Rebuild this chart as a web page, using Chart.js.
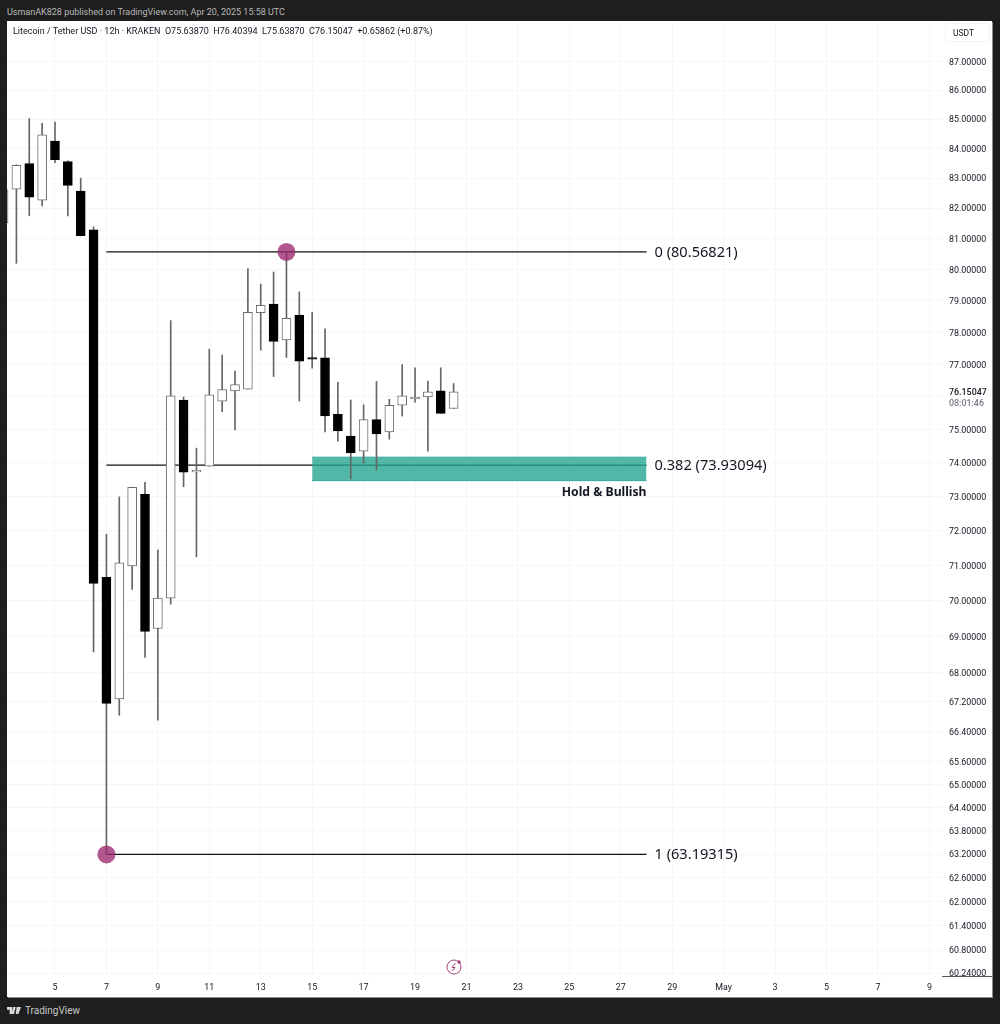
<!DOCTYPE html>
<html>
<head>
<meta charset="utf-8">
<script src="https://cdn.jsdelivr.net/npm/chart.js@4"></script>
<style>
html,body{margin:0;padding:0;background:#1e1e1e;width:1000px;height:1024px;overflow:hidden;font-family:Roboto,sans-serif}
#publisher{position:absolute;left:7px;top:5px;font-size:9px;line-height:14px;color:#b8b8b8}
#panel{position:absolute;left:7px;top:21px;width:985px;height:976px;background:#fff;box-shadow:1px 1px 0 #8a8a8a}
#chartBox{position:absolute;left:0;top:0;width:985px;height:976px}
#legend{position:absolute;left:6px;top:3px;font-size:9px;line-height:14px;color:#131722;white-space:pre}
#unit{position:absolute;left:938px;top:2px;width:45px;height:19px;border:1px solid #f0f3fa;border-radius:3px;box-sizing:border-box;font-size:8.5px;line-height:18px;color:#131722;padding-left:7px}
#corner{position:absolute;left:935px;top:955px;width:50px;height:1px;background:#555}
#bolt{position:absolute;left:438px;top:937px}
#brand{position:absolute;left:25px;top:1003px;font-size:10px;line-height:16px;color:#c8c8c8}
#logo{position:absolute;left:7px;top:1007px}
</style>
</head>
<body>
<div id="publisher">UsmanAK828 published on TradingView.com, Apr 20, 2025 15:58 UTC</div>
<div id="panel">
  <div id="chartBox"><canvas id="c" width="985" height="976"></canvas></div>
  <div id="legend">Litecoin / Tether USD · 12h · KRAKEN  O75.63870  H76.40394  L75.63870  C76.15047  +0.65862 (+0.87%)</div>
  <div id="unit">USDT</div>
  <div id="corner"></div>
  <svg id="bolt" width="18" height="18" viewBox="0 0 18 18"><circle cx="9" cy="9" r="7" fill="none" stroke="#a0447a" stroke-width="1"/><path d="M10.5 5 L7 9.5 H10 L7.5 13" fill="none" stroke="#a0447a" stroke-width="1"/><circle cx="14" cy="4" r="1.8" fill="#a0447a"/></svg>
</div>
<svg id="logo" width="14" height="8" viewBox="0 0 16 9"><path d="M0 0H6V8H3V3H0Z M7 0H10L8 8H5.5Z M11 0H16L13 8H10Z" fill="#d8d8d8"/></svg>
<div id="brand">TradingView</div>
<script>
// candles, day number of April (May 1 = 31), one every 12h
const days=[3,3.5,4,4.5,5,5.5,6,6.5,7,7.5,8,8.5,9,9.5,10,10.5,11,11.5,12,12.5,13,13.5,14,14.5,15,15.5,16,16.5,17,17.5,18,18.5,19,19.5,20,20.5];
const opens=[81.52,82.63,83.49,82.27,84.25,83.56,82.57,81.29,70.66,67.28,70.99,73.07,69.22,70.07,75.90,73.73,73.90,75.86,76.18,76.23,78.62,78.89,77.76,78.54,77.21,77.20,75.46,74.80,74.35,75.30,74.93,75.74,75.93,75.99,76.18,75.6387];
const highs=[82.70,83.45,85.02,84.86,84.90,83.58,83.00,81.39,71.90,72.99,73.28,73.42,71.44,78.37,75.99,74.44,77.47,77.29,76.79,80.03,79.53,79.92,80.56821,79.28,78.63,78.11,76.44,75.90,75.75,76.47,75.92,76.99,76.89,76.48,76.89,76.40394];
const lows=[81.50,80.20,81.75,82.08,83.52,81.75,81.09,68.57,63.19315,66.84,70.32,68.42,66.71,69.90,73.29,71.25,73.90,75.54,74.99,76.23,77.44,76.62,77.21,75.87,76.88,74.93,74.65,73.52,73.99,73.79,74.71,75.41,75.83,74.35,75.49,75.6387];
const closes=[82.61,83.43,82.37,84.46,83.62,82.76,81.10,70.49,67.16,71.08,73.27,69.14,70.07,76.03,73.72,73.78,76.06,76.22,76.37,78.63,78.85,77.71,78.44,77.10,77.16,75.41,74.96,74.30,75.30,74.87,75.74,76.03,75.99,76.15,75.49,76.15047];

const priceTicks=[87,86,85,84,83,82,81,80,79,78,77,76,75,74,73,72,71,70,69,68,67.2,66.4,65.6,65,64.4,63.8,63.2,62.6,62,61.4,60.8,60.24];
const dayTicks=[5,7,9,11,13,15,17,19,21,23,25,27,29,31,33,35,37,39];
const lastPrice=76.15047;
const lastTimer='08:01:46';

// fib levels drawn from day 7 to day 28
const fibValues=[80.56821,73.93094,63.19315];
const fibLabels=['0 (80.56821)','0.382 (73.93094)','1 (63.19315)'];
const fibStart=[7,7,7];
const fibEnd=[28,28,28];
const zoneDays=[15,28];
const zoneTop=[74.17,74.17];
const zoneBottom=[73.47,73.47];
const zoneText='Hold & Bullish';
const pivotDays=[14,7];
const pivotValues=[80.56821,63.19315];

const up=days.map((d,i)=>closes[i]>=opens[i]);
const bodies=(want)=>days.map((d,i)=>({x:d,y:[opens[i],closes[i]]})).filter((p,i)=>up[i]===want);

const datasets=[];
fibValues.forEach((v,i)=>datasets.push({type:'line',order:6,data:[{x:fibStart[i],y:v},{x:fibEnd[i],y:v}],borderColor:'#111',borderWidth:1.2,pointRadius:0}));
datasets.push({type:'line',order:5,data:zoneDays.map((d,i)=>({x:d,y:zoneTop[i]})),borderColor:'#3fae9b',borderWidth:1,pointRadius:0,fill:'+1',backgroundColor:'rgba(38,166,145,.8)'});
datasets.push({type:'line',order:5,data:zoneDays.map((d,i)=>({x:d,y:zoneBottom[i]})),borderColor:'#3fae9b',borderWidth:1,pointRadius:0});
datasets.push({type:'bar',order:4,grouped:false,barThickness:1,data:days.map((d,i)=>({x:d,y:[lows[i],highs[i]]})),backgroundColor:'#666',borderWidth:0});
datasets.push({type:'bar',order:3,grouped:false,barThickness:9,data:bodies(true),backgroundColor:'#fff',borderColor:'#6e6e6e',borderWidth:1,borderSkipped:false});
datasets.push({type:'bar',order:2,grouped:false,barThickness:9,data:bodies(false),backgroundColor:'#000',borderColor:'#000',borderWidth:1,borderSkipped:false});
datasets.push({type:'line',order:1,showLine:false,data:pivotDays.map((d,i)=>({x:d,y:pivotValues[i]})),pointRadius:9,pointHoverRadius:9,pointBackgroundColor:'rgba(156,39,110,.78)',pointBorderWidth:0});

const annotations={
  id:'annotations',
  afterDraw(chart){
    const ctx=chart.ctx,xs=chart.scales.x,ys=chart.scales.y;
    ctx.save();
    ctx.textBaseline='middle';
    ctx.fillStyle='#131722';
    ctx.font='14.6px "Noto Sans"';
    fibLabels.forEach((t,i)=>ctx.fillText(t,xs.getPixelForValue(fibEnd[i])+8,ys.getPixelForValue(fibValues[i])+0.5));
    ctx.font='bold 12.2px "Noto Sans"';
    ctx.textAlign='right';
    ctx.fillText(zoneText,xs.getPixelForValue(zoneDays[1]),ys.getPixelForValue(zoneBottom[0])+11.5);
    ctx.textAlign='left';
    const px=chart.chartArea.right+7,py=ys.getPixelForValue(lastPrice);
    ctx.font='500 8.9px Roboto';
    ctx.fillStyle='#131722';
    ctx.fillText(lastPrice.toFixed(5),px,py+1);
    ctx.fillStyle='#787b86';
    ctx.fillText(lastTimer,px,py+12);
    ctx.restore();
  }
};

const noPad=(s)=>{s.paddingTop=0;s.paddingBottom=0;s.paddingLeft=0;s.paddingRight=0;};

new Chart(document.getElementById('c'),{
  data:{datasets},
  plugins:[annotations],
  options:{
    responsive:false,animation:false,
    layout:{padding:0,autoPadding:false},
    plugins:{legend:{display:false},tooltip:{enabled:false}},
    scales:{
      x:{type:'linear',offset:false,min:3.134,max:39.49,
        afterBuildTicks(s){s.ticks=dayTicks.map(v=>({value:v}));},
        afterFit(s){s.height=21;noPad(s);},
        grid:{color:'#f6f6f7',drawTicks:false,lineWidth:1,offset:false},border:{display:false},
        ticks:{autoSkip:false,maxRotation:0,padding:6.5,color:'#131722',font:{family:'Roboto',size:8.9},
          callback:v=>v===31?'May':String(v>31?v-30:v)}},
      y:{type:'logarithmic',position:'right',min:60.17,max:88.43,
        afterBuildTicks(s){s.ticks=priceTicks.map(v=>({value:v}));},
        afterFit(s){s.width=50;noPad(s);},
        grid:{color:'#f6f6f7',drawTicks:false,lineWidth:1},border:{display:false},
        ticks:{autoSkip:false,padding:7,labelOffset:1,color:'#131722',font:{family:'Roboto',size:8.9},
          callback:v=>v===76?'':Number(v).toFixed(5)}}
    }
  }
});
</script>
</body>
</html>
